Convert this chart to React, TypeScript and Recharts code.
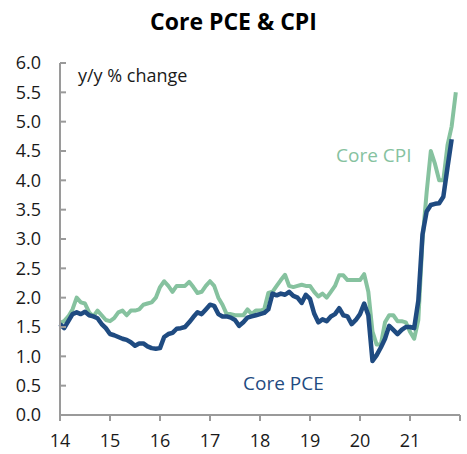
import React from "react";
import { LineChart, Line, XAxis, YAxis } from "recharts";

const yearLabels = ["14", "15", "16", "17", "18", "19", "20", "21", ""];
const yTicks = [0, 0.5, 1, 1.5, 2, 2.5, 3, 3.5, 4, 4.5, 5, 5.5, 6];

// Core PCE, y/y %, monthly Jan 2014 – Nov 2021
const corePce = [
  1.55, 1.48, 1.6, 1.72, 1.75, 1.72, 1.76, 1.7, 1.68, 1.65, 1.55, 1.48,
  1.38, 1.36, 1.33, 1.3, 1.28, 1.24, 1.18, 1.22, 1.22, 1.17, 1.14, 1.13,
  1.14, 1.33, 1.38, 1.4, 1.47, 1.48, 1.5, 1.58, 1.67, 1.75, 1.72, 1.8,
  1.88, 1.86, 1.72, 1.68, 1.68, 1.66, 1.62, 1.52, 1.58, 1.66, 1.68, 1.7,
  1.72, 1.74, 1.8, 2.07, 2.04, 2.07, 2.05, 2.1, 2.03, 2.0, 1.91, 2.05,
  1.98, 1.73, 1.58, 1.63, 1.6, 1.68, 1.72, 1.82, 1.7, 1.68, 1.55, 1.62,
  1.72, 1.9, 1.7, 0.92, 1.02, 1.15, 1.3, 1.52, 1.45, 1.38, 1.45, 1.5,
  1.5, 1.48, 1.95, 3.08, 3.47, 3.58, 3.6, 3.61, 3.72, 4.22, 4.7,
];

// Core CPI, y/y %, monthly Jan 2014 – Dec 2021
const coreCpi = [
  1.57, 1.6, 1.68, 1.8, 2.0, 1.92, 1.9, 1.75, 1.68, 1.78, 1.7, 1.62,
  1.6, 1.65, 1.75, 1.78, 1.7, 1.78, 1.78, 1.8, 1.88, 1.9, 1.92, 2.0,
  2.18, 2.28, 2.2, 2.1, 2.2, 2.2, 2.2, 2.27, 2.18, 2.08, 2.1, 2.2,
  2.28, 2.2, 2.0, 1.88, 1.72, 1.72, 1.7, 1.7, 1.7, 1.8, 1.72, 1.78,
  1.78, 1.8, 2.08, 2.1, 2.2, 2.3, 2.39, 2.2, 2.18, 2.2, 2.22, 2.2,
  2.2, 2.1, 2.02, 2.07, 2.0, 2.1, 2.2, 2.38, 2.38, 2.3, 2.3, 2.3,
  2.3, 2.4, 2.1, 1.42, 1.2, 1.2, 1.58, 1.7, 1.7, 1.6, 1.6, 1.58,
  1.42, 1.3, 1.62, 2.98, 3.8, 4.5, 4.28, 4.0, 4.0, 4.6, 4.92, 5.5,
];

const data = coreCpi.map((cpi, i) => ({
  m: i,
  cpi,
  pce: i < corePce.length ? corePce[i] : undefined,
}));

const xTicks = yearLabels.map((_, i) => i * 12);

const FONT = "'Open Sans', sans-serif";
const AXIS = "#9a9a9a";
const GREEN = "#86c29f";
const BLUE = "#1f4b81";
const TICK_MARGIN = 19;

const YTick = (props: any) => {
  const { x, y, payload } = props;
  const ax = x + TICK_MARGIN;
  return (
    <g>
      <line x1={ax} x2={ax + 6} y1={y} y2={y} stroke={AXIS} strokeWidth={2} />
      <text x={x} y={y} dy="0.35em" textAnchor="end" fontFamily={FONT} fontSize={18} fill="#1a1a1a">
        {Number(payload.value).toFixed(1)}
      </text>
    </g>
  );
};

export default function App() {
  return (
    <div style={{ position: "absolute", left: 0, top: 0, width: 467, height: 454, background: "#fff" }}>
      <LineChart
        width={467}
        height={454}
        data={data}
        margin={{ top: 63, right: 7, bottom: 0, left: 0 }}
      >
        <XAxis
          dataKey="m"
          type="number"
          domain={[0, 96]}
          ticks={xTicks}
          tickFormatter={(v: number) => yearLabels[Math.round(v / 12)]}
          height={39}
          stroke={AXIS}
          strokeWidth={2}
          tickSize={6}
          tickMargin={13}
          tick={{ fontFamily: FONT, fontSize: 18, fill: "#1a1a1a" }}
          interval={0}
        />
        <YAxis
          type="number"
          domain={[0, 6]}
          ticks={yTicks}
          width={60}
          stroke={AXIS}
          strokeWidth={2}
          tickLine={false}
          tickSize={0}
          tickMargin={TICK_MARGIN}
          tick={<YTick />}
          interval={0}
        />
        <Line
          type="linear"
          dataKey="cpi"
          stroke={GREEN}
          strokeWidth={4}
          dot={false}
          isAnimationActive={false}
          strokeLinejoin="round"
        />
        <Line
          type="linear"
          dataKey="pce"
          stroke={BLUE}
          strokeWidth={4.5}
          dot={false}
          isAnimationActive={false}
          strokeLinejoin="round"
        />
      </LineChart>
      <div style={{ position: "absolute", left: 0, width: 467, top: 6, textAlign: "center", fontFamily: FONT, fontWeight: 700, fontSize: 23, color: "#000", lineHeight: "30px" }}>
        Core PCE &amp; CPI
      </div>
      <div style={{ position: "absolute", left: 78, top: 62, fontFamily: FONT, fontSize: 18, color: "#1a1a1a", lineHeight: "26px", whiteSpace: "nowrap" }}>
        y/y % change
      </div>
      <div style={{ position: "absolute", left: 336, top: 141, fontFamily: FONT, fontSize: 19, color: GREEN, lineHeight: "28px", whiteSpace: "nowrap" }}>
        Core CPI
      </div>
      <div style={{ position: "absolute", left: 243, top: 369, fontFamily: FONT, fontSize: 19, color: BLUE, lineHeight: "28px", whiteSpace: "nowrap" }}>
        Core PCE
      </div>
    </div>
  );
}
